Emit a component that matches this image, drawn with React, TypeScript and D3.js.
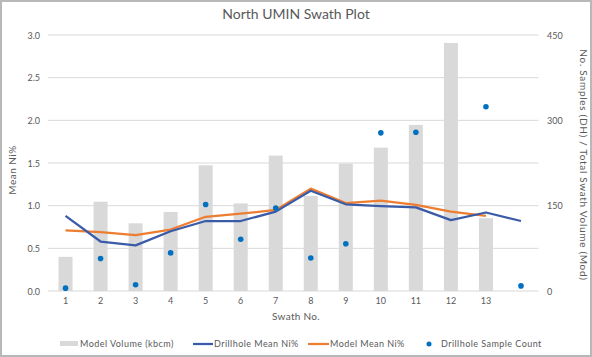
import React from "react";
import * as d3 from "d3";

const swaths = ["1","2","3","4","5","6","7","8","9","10","11","12","13",""];
const modelVolume: (number|null)[] = [60,157,119,139,221,154,238,167,224,252,292,436,128,null];
const drillholeMean: (number|null)[] = [0.88,0.58,0.535,0.70,0.82,0.82,0.93,1.175,1.016,0.996,0.98,0.83,0.92,0.82];
const modelMean: (number|null)[] = [0.71,0.69,0.656,0.72,0.87,0.906,0.95,1.20,1.03,1.06,1.01,0.93,0.88,null];
const sampleCount: (number|null)[] = [5,57,11,67,152,91,146,58,83,278,279,null,324,9];
const leftTicks = [0,0.5,1.0,1.5,2.0,2.5,3.0];
const rightTicks = [0,150,300,450];

const W = 592, H = 357;
const M = { left: 48, right: 538.5, top: 35, bottom: 291 };
const FONT = "'Lato', 'DejaVu Sans', sans-serif";
const TXT = "#595959";

export default function App() {
  const idx = swaths.map((_, i) => i);
  const x = d3.scaleBand<number>().domain(idx).range([M.left, M.right]).paddingInner(0).paddingOuter(0);
  const cx = (i: number) => (x(i) as number) + x.bandwidth() / 2;
  const yL = d3.scaleLinear().domain([0, 3]).range([M.bottom, M.top]);
  const yR = d3.scaleLinear().domain([0, 450]).range([M.bottom, M.top]);
  const barW = x.bandwidth() * 0.4;

  const line = d3.line<[number, number | null]>()
    .defined(d => d[1] != null)
    .x(d => cx(d[0]))
    .y(d => yL(d[1] as number));

  const blueD = line(drillholeMean.map((v, i) => [i, v]));
  const orangeD = line(modelMean.map((v, i) => [i, v]));

  return (
    <svg width={W} height={H} style={{ position: "absolute", left: 0, top: 0 }} fontFamily={FONT}>
      <rect x={0} y={0} width={W} height={H} fill="#fff" />
      <rect x={1} y={1} width={W - 2} height={H - 2} fill="none" stroke="#b8b8b8" strokeWidth={2} />
      <text x={296} y={19} textAnchor="middle" fontSize={14} fill={TXT}>North UMIN Swath Plot</text>

      {leftTicks.map(t => (
        <g key={"g" + t}>
          <line x1={M.left} x2={M.right} y1={yL(t)} y2={yL(t)} stroke="#d9d9d9" strokeWidth={1} />
          <text x={40} y={yL(t) + 3.5} textAnchor="end" fontSize={9} fill={TXT}>{t.toFixed(1)}</text>
        </g>
      ))}
      {rightTicks.map(t => (
        <text key={"r" + t} x={547} y={yR(t) + 3.5} textAnchor="start" fontSize={9} fill={TXT}>{t}</text>
      ))}

      {modelVolume.map((v, i) => v == null ? null : (
        <rect key={"b" + i} x={cx(i) - barW / 2} y={yR(v)} width={barW} height={yR(0) - yR(v)} fill="#d9d9d9" />
      ))}

      <path d={orangeD || ""} fill="none" stroke="#ed7d31" strokeWidth={2.25} strokeLinejoin="round" />
      <path d={blueD || ""} fill="none" stroke="#3a5ba8" strokeWidth={2.25} strokeLinejoin="round" />

      {sampleCount.map((v, i) => v == null ? null : (
        <circle key={"c" + i} cx={cx(i)} cy={yR(v)} r={2.8} fill="#0070c0" />
      ))}

      {swaths.map((s, i) => (
        <text key={"x" + i} x={cx(i)} y={304} textAnchor="middle" fontSize={9} fill={TXT}>{s}</text>
      ))}

      <text x={296} y={320} textAnchor="middle" fontSize={10} fill={TXT} letterSpacing={0.3}>Swath No.</text>
      <text transform={`translate(16,${(M.top + M.bottom) / 2 + 7}) rotate(-90)`} textAnchor="middle" fontSize={10} fill={TXT} letterSpacing={0.5}>Mean Ni%</text>
      <text transform={`translate(580,${(M.top + M.bottom) / 2 + 2}) rotate(90)`} textAnchor="middle" fontSize={10} fill={TXT} letterSpacing={0.7}>No. Samples (DH) / Total Swath Volume (Mod)</text>

      <g fontSize={9} fill={TXT} letterSpacing={0.45}>
        <rect x={60} y={341} width={18} height={5} fill="#d9d9d9" />
        <text x={80} y={347}>Model Volume (kbcm)</text>
        <line x1={193} x2={213} y1={344} y2={344} stroke="#3a5ba8" strokeWidth={2.25} />
        <text x={214} y={347}>Drillhole Mean Ni%</text>
        <line x1={308} x2={329} y1={344} y2={344} stroke="#ed7d31" strokeWidth={2.25} />
        <text x={330} y={347}>Model Mean Ni%</text>
        <circle cx={429} cy={344} r={2.5} fill="#0070c0" />
        <text x={441} y={347}>Drillhole Sample Count</text>
      </g>
    </svg>
  );
}
